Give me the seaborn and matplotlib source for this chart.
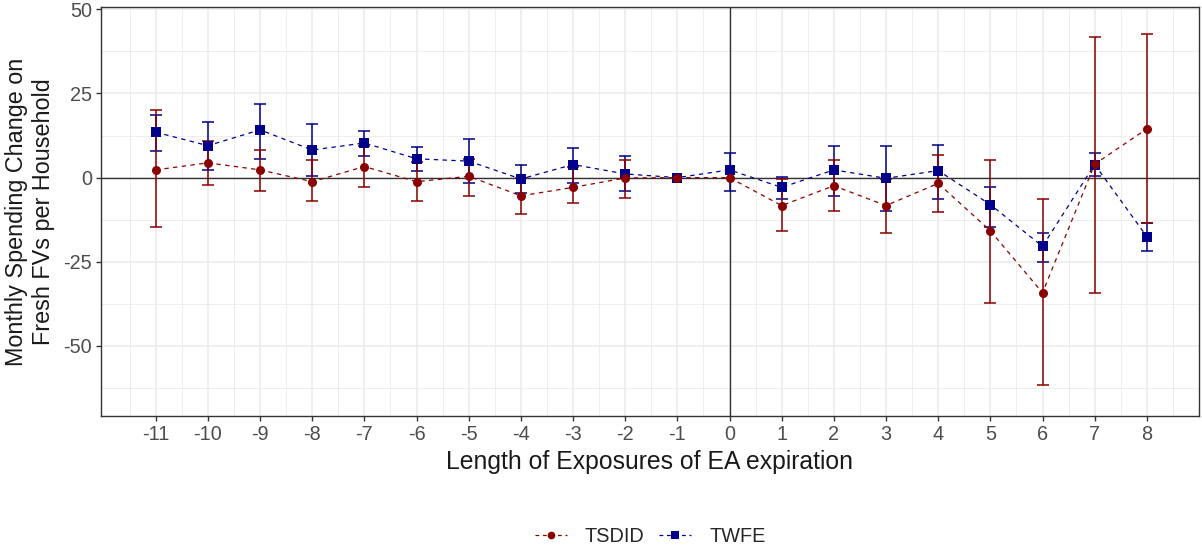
import numpy as np
import pandas as pd
import matplotlib
matplotlib.use('Agg')
import matplotlib.pyplot as plt
import seaborn as sns

# event time
periods = [-11, -10, -9, -8, -7, -6, -5, -4, -3, -2, -1, 0, 1, 2, 3, 4, 5, 6, 7, 8]

# TSDID estimates and confidence bounds
tsdid_est = [2.3, 4.4, 2.3, -1.2, 3.3, -1.2, 0.4, -5.4, -2.9, -0.1, 0.0, 0.0, -8.3, -2.4, -8.3, -1.7, -15.8, -34.2, 4.0, 14.5]
tsdid_lo = [-14.7, -2.3, -3.9, -6.8, -2.9, -6.8, -5.4, -10.8, -7.6, -6.0, 0.0, 0.0, -15.8, -9.8, -16.5, -10.3, -37.3, -61.6, -34.3, -13.6]
tsdid_hi = [20.1, 10.8, 8.3, 5.1, 9.5, 4.6, 5.5, 0.0, 3.1, 5.3, 0.0, 0.0, -0.4, 5.3, -0.5, 6.8, 5.3, -6.3, 41.8, 42.8]

# TWFE estimates and confidence bounds
twfe_est = [13.5, 9.5, 14.2, 8.2, 10.3, 5.6, 4.9, -0.4, 3.9, 1.1, 0.0, 2.3, -2.9, 2.3, -0.2, 2.1, -8.0, -20.4, 3.9, -17.5]
twfe_lo = [7.8, 2.3, 5.4, 0.5, 6.5, 1.9, -1.7, -4.5, -1.7, -4.0, 0.0, -3.9, -6.3, -5.4, -9.8, -6.4, -14.6, -25.2, 0.5, -21.9]
twfe_hi = [18.5, 16.5, 21.9, 16.0, 14.0, 9.0, 11.4, 3.9, 8.8, 6.3, 0.0, 7.3, 0.1, 9.3, 9.3, 9.8, -2.9, -16.5, 7.3, -13.6]

models = ['TSDID', 'TWFE']
colors = {'TSDID': '#8B0000', 'TWFE': '#00008B'}
markers = {'TSDID': 'o', 'TWFE': 's'}

df = pd.concat([
    pd.DataFrame({'period': periods, 'est': tsdid_est, 'lo': tsdid_lo, 'hi': tsdid_hi, 'model': 'TSDID'}),
    pd.DataFrame({'period': periods, 'est': twfe_est, 'lo': twfe_lo, 'hi': twfe_hi, 'model': 'TWFE'}),
])

sns.set_style('white')
plt.rcParams['font.family'] = ['Liberation Sans', 'DejaVu Sans']
plt.rcParams['axes.unicode_minus'] = False

fig = plt.figure(figsize=(12.02, 5.49), dpi=100)
ax = fig.add_axes([0.084, 0.2423, 0.9135, 0.7444])

# grid
ax.set_xlim(-12.05, 9.0)
ax.set_ylim(-70.8, 50.6)
ax.set_xticks(periods)
ax.set_xticks(np.arange(-11.5, 9, 1), minor=True)
ax.set_yticks([-50, -25, 0, 25, 50])
ax.set_yticks([-62.5, -37.5, -12.5, 12.5, 37.5], minor=True)
ax.grid(True, which='major', color='#EBEBEB', lw=1.1, zorder=0)
ax.grid(True, which='minor', color='#EBEBEB', lw=0.6, zorder=0)
ax.set_axisbelow(True)
ax.axhline(0, color='#333333', lw=1.0, zorder=1)
ax.axvline(0, color='#333333', lw=1.0, zorder=1)

# draw TWFE first so TSDID sits on top
for m in ['TWFE', 'TSDID']:
    sub = df[df['model'] == m]
    has_ci = (sub['hi'] - sub['lo']) > 0
    s = sub[has_ci]
    ax.errorbar(s['period'], s['est'], yerr=[s['est'] - s['lo'], s['hi'] - s['est']],
                fmt='none', ecolor=colors[m], elinewidth=1.1, capsize=4.3, capthick=1.1, zorder=3)
    sns.lineplot(data=sub, x='period', y='est', color=colors[m], marker=markers[m],
                 markersize=6.5, markeredgewidth=0, lw=0.9, ax=ax, zorder=4, legend=False)
    ax.lines[-1].set_dashes([3.5, 3.5])

for sp in ax.spines.values():
    sp.set_color('#333333')
    sp.set_linewidth(1.0)

ax.tick_params(axis='both', which='major', length=3.5, width=1.0, color='#333333',
               labelsize=14.3, labelcolor='#4D4D4D', direction='out', bottom=True, left=True, pad=3)
ax.tick_params(which='minor', length=0)
ax.set_xlabel('Length of Exposures of EA expiration', fontsize=17.8, color='#1A1A1A', labelpad=4)
ax.set_ylabel('Monthly Spending Change on\nFresh FVs per Household', fontsize=16.8,
              color='#1A1A1A', labelpad=6, linespacing=1.2)

# legend
handles = []
for m in models:
    h, = ax.plot([], [], color=colors[m], marker=markers[m], markersize=5.5, markeredgewidth=0,
                 lw=0.9, dashes=[3, 3])
    handles.append(h)
fig.legend(handles, models, loc='center', bbox_to_anchor=(0.541, 0.022), ncol=2, frameon=False,
           fontsize=14.3, handlelength=1.6, columnspacing=0.75, handletextpad=0.9)

fig.savefig('out.png', dpi=100)
